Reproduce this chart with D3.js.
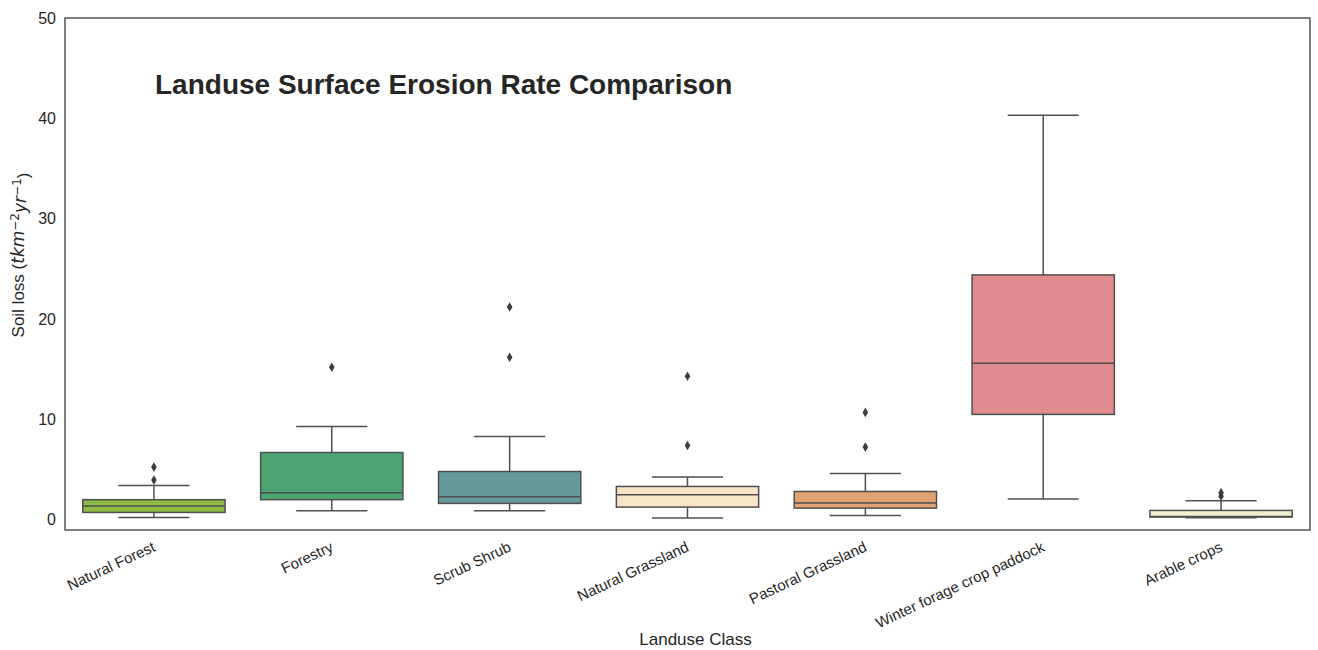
<!DOCTYPE html>
<html>
<head>
<meta charset="utf-8">
<script src="https://cdn.jsdelivr.net/npm/d3@7"></script>
<style>
  body { margin: 0; background: #fff; }
  text { font-family: "Liberation Sans", Arial, sans-serif; fill: #262626; }
</style>
</head>
<body>
<svg id="chart" width="1318" height="650"></svg>
<script>
// values
var categories = ["Natural Forest", "Forestry", "Scrub Shrub", "Natural Grassland",
    "Pastoral Grassland", "Winter forage crop paddock", "Arable crops"]
var whiskerLow = [0.23, 0.9, 0.9, 0.17, 0.43, 2.06, 0.2]
var q1 = [0.73, 2.0, 1.63, 1.26, 1.16, 10.5, 0.27]
var medians = [1.36, 2.69, 2.29, 2.49, 1.66, 15.6, 0.33]
var q3 = [2.0, 6.7, 4.81, 3.32, 2.82, 24.4, 0.93]
var whiskerHigh = [3.42, 9.3, 8.3, 4.25, 4.61, 40.3, 1.89]
var outliers = [[3.95, 5.25], [15.2], [16.2, 21.2], [7.4, 14.3], [7.24, 10.7], [], [2.35, 2.7]]
var colors = ["#8fba45", "#4aa573", "#649a9b", "#f9e4c8", "#e0a36f", "#e08b8e", "#f0f0cf"]
var yTicks = [0, 10, 20, 30, 40, 50]

var svg = d3.select("#chart")
var margin = {left: 65, right: 8, top: 18, bottom: 120}
var width = 1318 - margin.left - margin.right
var height = 650 - margin.top - margin.bottom
var lineColor = "#4f4f4f"

var g = svg.append("g").attr("transform", "translate(" + margin.left + "," + margin.top + ")")

var x = d3.scaleBand().domain(categories).range([0, width]).paddingInner(0).paddingOuter(0)
var y = d3.scaleLinear().domain([-1.02, 50]).range([height, 0])

var bw = x.bandwidth() * 0.8

// y tick labels (no tick marks, seaborn white style)
g.selectAll(".ytick").data(yTicks).enter().append("text")
    .attr("class", "ytick")
    .attr("x", -9)
    .attr("y", function(d) { return y(d) })
    .attr("dy", "0.35em")
    .attr("text-anchor", "end")
    .style("font-size", "16px")
    .text(function(d) { return d })

// x tick labels, rotated
g.selectAll(".xtick").data(categories).enter().append("text")
    .attr("class", "xtick")
    .attr("text-anchor", "end")
    .style("font-size", "15px")
    .attr("transform", function(d) {
        return "translate(" + (x(d) + x.bandwidth() / 2 - 2) + "," + (height + 11) + ") rotate(-25)"
    })
    .attr("dy", "0.7em")
    .text(function(d) { return d })

var boxes = g.selectAll(".box").data(categories).enter().append("g")
    .attr("class", "box")
    .attr("transform", function(d) { return "translate(" + (x(d) + x.bandwidth() / 2) + ",0)" })

// whiskers
boxes.append("line")
    .attr("x1", 0).attr("x2", 0)
    .attr("y1", function(d, i) { return y(whiskerLow[i]) })
    .attr("y2", function(d, i) { return y(q1[i]) })
    .style("stroke", lineColor).style("stroke-width", 1.5)
boxes.append("line")
    .attr("x1", 0).attr("x2", 0)
    .attr("y1", function(d, i) { return y(q3[i]) })
    .attr("y2", function(d, i) { return y(whiskerHigh[i]) })
    .style("stroke", lineColor).style("stroke-width", 1.5)

// caps
boxes.append("line")
    .attr("x1", -bw / 4).attr("x2", bw / 4)
    .attr("y1", function(d, i) { return y(whiskerLow[i]) })
    .attr("y2", function(d, i) { return y(whiskerLow[i]) })
    .style("stroke", lineColor).style("stroke-width", 1.5)
boxes.append("line")
    .attr("x1", -bw / 4).attr("x2", bw / 4)
    .attr("y1", function(d, i) { return y(whiskerHigh[i]) })
    .attr("y2", function(d, i) { return y(whiskerHigh[i]) })
    .style("stroke", lineColor).style("stroke-width", 1.5)

// boxes
boxes.append("rect")
    .attr("x", -bw / 2)
    .attr("width", bw)
    .attr("y", function(d, i) { return y(q3[i]) })
    .attr("height", function(d, i) { return y(q1[i]) - y(q3[i]) })
    .attr("fill", function(d, i) { return colors[i] })
    .style("stroke", lineColor).style("stroke-width", 1.5)

// medians
boxes.append("line")
    .attr("x1", -bw / 2).attr("x2", bw / 2)
    .attr("y1", function(d, i) { return y(medians[i]) })
    .attr("y2", function(d, i) { return y(medians[i]) })
    .style("stroke", lineColor).style("stroke-width", 1.5)

// outliers as thin diamonds
var diamond = "M0,-4.8L2.8,0L0,4.8L-2.8,0Z"
boxes.each(function(d, i) {
    d3.select(this).selectAll(".flier").data(outliers[i]).enter().append("path")
        .attr("class", "flier")
        .attr("d", diamond)
        .attr("transform", function(v) { return "translate(0," + y(v) + ")" })
        .attr("fill", "#3d3d3d")
})

// frame
g.append("rect")
    .attr("width", width).attr("height", height)
    .attr("fill", "none")
    .style("stroke", "#333").style("stroke-width", 1.25)

// title
g.append("text")
    .attr("x", 155 - margin.left)
    .attr("y", 94 - margin.top)
    .style("font-size", "28px")
    .style("font-weight", "bold")
    .text("Landuse Surface Erosion Rate Comparison")

// axis titles
svg.append("text")
    .attr("x", margin.left + width / 2 + 8)
    .attr("y", 645)
    .attr("text-anchor", "middle")
    .style("font-size", "17px")
    .text("Landuse Class")

var yl = svg.append("text")
    .attr("transform", "translate(24,255) rotate(-90)")
    .attr("text-anchor", "middle")
    .style("font-size", "17px")
var mathFont = "'DejaVu Sans', sans-serif"
yl.append("tspan").text("Soil loss (")
yl.append("tspan").style("font-family", mathFont).style("font-style", "italic").text("tkm")
yl.append("tspan").attr("dy", "-0.45em").style("font-family", mathFont).style("font-size", "12px").text("\u22122")
yl.append("tspan").attr("dy", "0.45em").style("font-family", mathFont).style("font-style", "italic").text("yr")
yl.append("tspan").attr("dy", "-0.45em").style("font-family", mathFont).style("font-size", "12px").text("\u22121")
yl.append("tspan").attr("dy", "0.45em").text(")")
</script>
</body>
</html>
